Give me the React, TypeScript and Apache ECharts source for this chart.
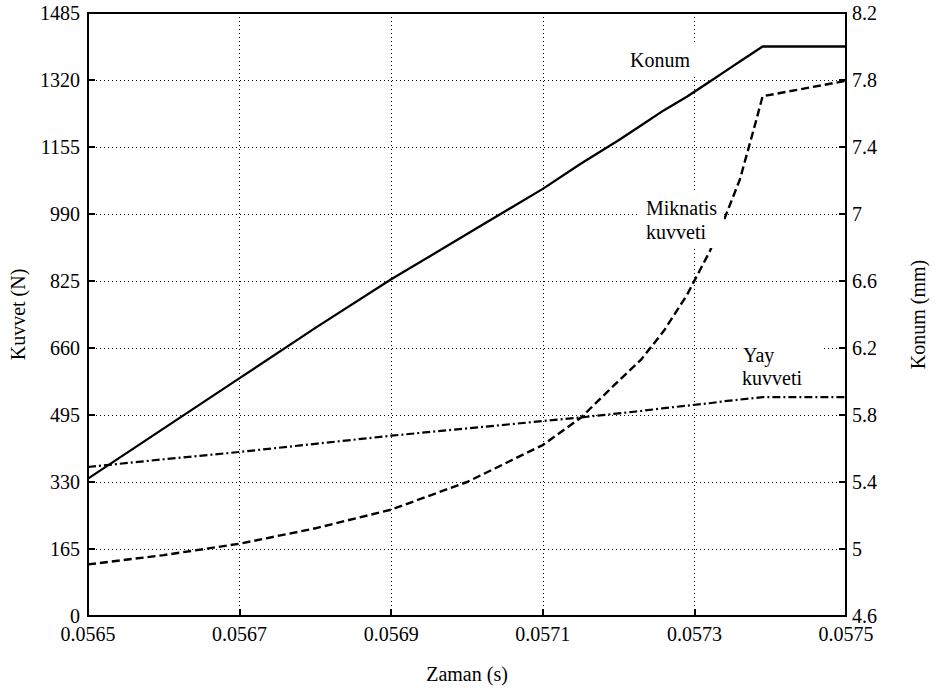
import React, { useEffect, useRef } from "react";
import * as echarts from "echarts";

// time (s)
const zaman = [0.0565, 0.0566, 0.0567, 0.0568, 0.0569, 0.057, 0.0571, 0.05715, 0.0572, 0.05723, 0.05726, 0.05729, 0.05732, 0.05734, 0.05736, 0.05738, 0.05739, 0.0575];
// Konum (mm) - right axis
const konum = [5.42, 5.72, 6.02, 6.32, 6.61, 6.88, 7.15, 7.3, 7.44, 7.53, 7.62, 7.7, 7.79, 7.85, 7.91, 7.97, 8.0, 8.0];
// Miknatis kuvveti (N)
const miknatis = [127, 150, 178, 216, 262, 330, 421, 488, 579, 632, 703, 790, 897, 980, 1075, 1210, 1280, 1318];
// Yay kuvveti (N)
const yay = [367, 386, 404, 424, 444, 462, 480, 489, 499, 505, 512, 518, 524, 529, 533, 537, 539, 539];

const FONT = "Liberation Serif";

export default function App() {
  const ref = useRef<HTMLDivElement>(null);
  useEffect(() => {
    const chart = echarts.init(ref.current!, null, { renderer: "svg" });
    const pair = (ys: number[]) => zaman.map((t, i) => [t, ys[i]]);
    const txt = { fontFamily: FONT, fontSize: 20, color: "#000" };
    const gtxt = (text: string, x: number, y: number) => ({
      type: "text",
      x,
      y,
      z: 6,
      style: { text, fontFamily: FONT, fontSize: 20, fill: "#000", verticalAlign: "middle" },
    });
    chart.setOption({
      animation: false,
      backgroundColor: "#fff",
      grid: { left: 86, right: 80, top: 13, bottom: 70, show: true, borderColor: "#000", borderWidth: 2, backgroundColor: "transparent" },
      xAxis: {
        type: "value",
        min: 0.0565,
        max: 0.0575,
        interval: 0.0002,
        name: "Zaman (s)",
        nameLocation: "middle",
        nameGap: 48,
        nameTextStyle: txt,
        axisLine: { lineStyle: { color: "#000", width: 2 } },
        axisTick: { inside: true, length: 7, lineStyle: { color: "#000", width: 2 } },
        axisLabel: { ...txt, margin: 8, formatter: (v: number) => v.toFixed(4) },
        splitLine: { show: true, lineStyle: { color: "#000", width: 1, type: [1, 3] } },
      },
      yAxis: [
        {
          type: "value",
          min: 0,
          max: 1485,
          interval: 165,
          name: "Kuvvet (N)",
          nameLocation: "middle",
          nameRotate: 90,
          nameGap: 60,
          nameTextStyle: txt,
          axisLine: { show: true, lineStyle: { color: "#000", width: 2 } },
          axisTick: { show: true, inside: true, length: 7, lineStyle: { color: "#000", width: 2 } },
          axisLabel: { ...txt, margin: 8, formatter: (v: number) => String(Math.round(v)) },
          splitLine: { show: true, lineStyle: { color: "#000", width: 1, type: [1, 3] } },
        },
        {
          type: "value",
          position: "right",
          min: 4.6,
          max: 8.2,
          interval: 0.4,
          name: "Konum (mm)",
          nameLocation: "middle",
          nameRotate: 90,
          nameGap: 62,
          nameTextStyle: txt,
          axisLine: { show: true, lineStyle: { color: "#000", width: 2 } },
          axisTick: { show: true, inside: true, length: 7, lineStyle: { color: "#000", width: 2 } },
          axisLabel: { ...txt, margin: 6, formatter: (v: number) => String(Math.round(v * 10) / 10) },
          splitLine: { show: false },
        },
      ],
      series: [
        { name: "Konum", type: "line", yAxisIndex: 1, data: pair(konum), showSymbol: false, lineStyle: { color: "#000", width: 2.3, type: "solid" } },
        { name: "Miknatis kuvveti", type: "line", yAxisIndex: 0, data: pair(miknatis), showSymbol: false, lineStyle: { color: "#000", width: 2.4, type: [8, 4] } },
        { name: "Yay kuvveti", type: "line", yAxisIndex: 0, data: pair(yay), showSymbol: false, lineStyle: { color: "#000", width: 2.2, type: [8, 3, 2, 3] } },
      ],
      graphic: [
        { type: "rect", shape: { x: 622, y: 43, width: 84, height: 32 }, style: { fill: "#fff" }, z: 5 },
        gtxt("Konum", 630, 60),
        { type: "rect", shape: { x: 640, y: 193, width: 84, height: 55 }, style: { fill: "#fff" }, z: 5 },
        gtxt("Miknatis", 646, 208),
        gtxt("kuvveti", 646, 232),
        { type: "rect", shape: { x: 737, y: 340, width: 85, height: 52 }, style: { fill: "#fff" }, z: 5 },
        gtxt("Yay", 743, 355),
        gtxt("kuvveti", 742, 378),
      ],
    });
    return () => chart.dispose();
  }, []);
  return <div ref={ref} style={{ width: 936, height: 689, position: "absolute", left: 0, top: 0 }} />;
}
